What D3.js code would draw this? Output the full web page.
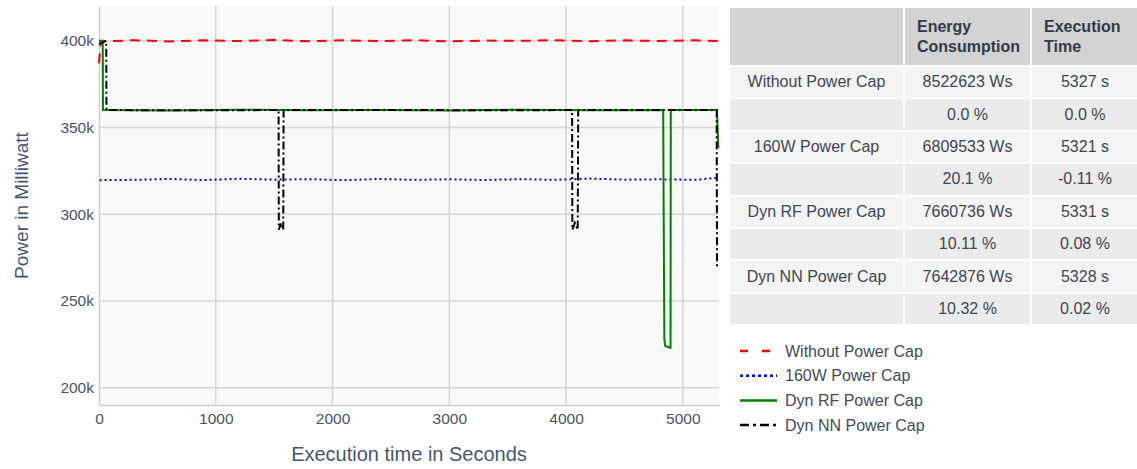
<!DOCTYPE html>
<html>
<head>
<meta charset="utf-8">
<script src="https://cdn.jsdelivr.net/npm/d3@7"></script>
<style>
  body { margin: 0; background: #fff; font-family: "Liberation Sans", Arial, sans-serif; }
  #wrap { position: relative; width: 1137px; height: 469px; }
  #chart { position: absolute; left: 0; top: 0; }
  #tbl { position: absolute; left: 728px; top: 6px; width: 410px; border-collapse: collapse; table-layout: fixed; }
  #tbl th, #tbl td { border: 2px solid #fff; padding: 0; font-size: 16px; }
  #tbl th { background: #d3d3d3; color: #333849; text-align: left; padding-left: 12px; height: 57px; line-height: 20px; }
  #tbl td { text-align: center; color: #404552; height: 30.4px; }
</style>
</head>
<body>
<div id="wrap">
  <svg id="chart" width="1137" height="469"></svg>
  <table id="tbl"></table>
</div>
<script>
// series: [seconds, milliwatt]
const withoutCap = [
  [0, 387000], [15, 399500], [300, 400300], [600, 399600], [900, 400200], [1200, 399800],
  [1500, 400400], [1800, 399700], [2100, 400200], [2400, 399800], [2700, 400300], [3000, 399600],
  [3300, 400100], [3600, 399900], [3900, 400300], [4200, 399700], [4500, 400200], [4800, 399800],
  [5100, 400300], [5300, 399800]
];
const cap160 = [
  [5, 319600], [300, 319800], [600, 320300], [900, 319700], [1200, 320400], [1500, 319900],
  [1800, 320200], [2100, 319600], [2400, 320300], [2700, 319800], [3000, 320100], [3300, 319700],
  [3600, 320200], [3900, 319800], [4200, 320500], [4500, 319900], [4800, 320100], [5100, 319800],
  [5300, 321000]
];
const dynRF = [
  [0, 400000], [32, 400000], [34, 360000], [600, 359800], [1200, 360200], [1800, 359900],
  [2400, 360100], [3000, 359800], [3600, 360200], [4200, 359900], [4832, 360000], [4834, 328000],
  [4842, 228000], [4850, 224000], [4895, 223000], [4897, 360000], [5292, 360000], [5305, 338000]
];
const dynNN = [
  [0, 398000], [62, 400000], [64, 360000], [800, 359900], [1538, 360000], [1540, 291000],
  [1560, 295000], [1578, 291000], [1581, 360000], [2500, 360100], [3300, 359900], [4052, 360000],
  [4054, 291000], [4075, 295000], [4100, 291000], [4104, 360000], [4600, 360100], [5290, 360000],
  [5293, 269000]
];
const seriesNames = ["Without Power Cap", "160W Power Cap", "Dyn RF Power Cap", "Dyn NN Power Cap"];
const xTicks = [0, 1000, 2000, 3000, 4000, 5000];
const yTicks = [200000, 250000, 300000, 350000, 400000];

const tableHeader = ["", "Energy Consumption", "Execution Time"];
const energyWs = ["8522623 Ws", "6809533 Ws", "7660736 Ws", "7642876 Ws"];
const execTime = ["5327 s", "5321 s", "5331 s", "5328 s"];
const energySaving = ["0.0 %", "20.1 %", "10.11 %", "10.32 %"];
const timeChange = ["0.0 %", "-0.11 %", "0.08 %", "0.02 %"];

const styles = [
  { color: "#ff0000", dash: "10,7", width: 2 },
  { color: "#0000ff", dash: "2,3", width: 2 },
  { color: "#008000", dash: null, width: 2 },
  { color: "#000000", dash: "8,3,2,3", width: 2 }
];

const plot = { left: 99, top: 6, right: 719, bottom: 405 };
const svg = d3.select("#chart");

const x = d3.scaleLinear().domain([0, 5310]).range([plot.left, plot.right]);
const y = d3.scaleLinear().domain([190000, 420000]).range([plot.bottom, plot.top]);

svg.append("rect")
  .attr("x", plot.left).attr("y", plot.top)
  .attr("width", plot.right - plot.left).attr("height", plot.bottom - plot.top)
  .attr("fill", "#f9f9f9");

// grid
svg.append("g").selectAll("line").data(yTicks).join("line")
  .attr("x1", plot.left).attr("x2", plot.right)
  .attr("y1", d => y(d)).attr("y2", d => y(d))
  .attr("stroke", "#d6d6d6").attr("stroke-width", 1.5);
svg.append("g").selectAll("line").data(xTicks.slice(1)).join("line")
  .attr("x1", d => x(d)).attr("x2", d => x(d))
  .attr("y1", plot.top).attr("y2", plot.bottom)
  .attr("stroke", "#d6d6d6").attr("stroke-width", 1.5);

// axes
const yAxis = svg.append("g")
  .attr("transform", `translate(${plot.left},0)`)
  .call(d3.axisLeft(y).tickValues(yTicks).tickSize(0).tickPadding(5).tickFormat(d => d / 1000 + "k"));
const xAxis = svg.append("g")
  .attr("transform", `translate(0,${plot.bottom})`)
  .call(d3.axisBottom(x).tickValues(xTicks).tickSize(0).tickPadding(8).tickFormat(d3.format("d")));
[yAxis, xAxis].forEach(a => {
  a.select(".domain").attr("stroke", "#cfcfcf").attr("stroke-width", 1.5);
  a.selectAll("text").attr("fill", "#4a5366").style("font-size", "15.5px")
    .style("font-family", "Liberation Sans, Arial, sans-serif");
});

// lines
const line = d3.line().x(d => x(d[0])).y(d => y(d[1]));
[withoutCap, cap160, dynRF, dynNN].forEach((data, i) => {
  svg.append("path")
    .datum(data)
    .attr("d", line)
    .attr("fill", "none")
    .attr("stroke", styles[i].color)
    .attr("stroke-width", styles[i].width)
    .attr("stroke-dasharray", styles[i].dash);
});

// axis titles
svg.append("text")
  .attr("x", (plot.left + plot.right) / 2).attr("y", 461)
  .attr("text-anchor", "middle")
  .attr("fill", "#475670")
  .style("font-size", "20px")
  .text("Execution time in Seconds");
svg.append("text")
  .attr("transform", "rotate(-90)")
  .attr("x", -(plot.top + plot.bottom) / 2).attr("y", 28)
  .attr("text-anchor", "middle")
  .attr("fill", "#475670")
  .style("font-size", "19px")
  .text("Power in Milliwatt");

// legend
const legend = svg.append("g").attr("transform", "translate(740,351)");
seriesNames.forEach((name, i) => {
  const g = legend.append("g").attr("transform", `translate(0,${i * 24.7})`);
  g.append("line")
    .attr("x1", 0).attr("x2", 37).attr("y1", 0).attr("y2", 0)
    .attr("stroke", styles[i].color)
    .attr("stroke-width", 2.5)
    .attr("stroke-dasharray", i === 0 ? "8,14" : i === 1 ? "3,3" : i === 3 ? "9,4,3,4" : null);
  g.append("text")
    .attr("x", 45).attr("y", 0).attr("dy", "0.35em")
    .attr("fill", "#454b5a")
    .style("font-size", "16px")
    .text(name);
});

// table
const tbl = d3.select("#tbl");
const colWidths = [175, 127, 108];
tbl.append("colgroup").selectAll("col").data(colWidths).join("col")
  .style("width", d => d + "px");
const head = tbl.append("tr");
tableHeader.forEach((h, i) => {
  head.append("th").html(h.replace(" ", "<br>"));
});
const rows = [];
seriesNames.forEach((name, i) => {
  rows.push([name, energyWs[i], execTime[i]]);
  rows.push(["", energySaving[i], timeChange[i]]);
});
tbl.selectAll("tr.body").data(rows).join("tr")
  .attr("class", "body")
  .style("background", (d, i) => i % 2 === 0 ? "#f4f4f4" : "#ebebeb")
  .selectAll("td").data(d => d).join("td")
  .text(d => d);
</script>
</body>
</html>
